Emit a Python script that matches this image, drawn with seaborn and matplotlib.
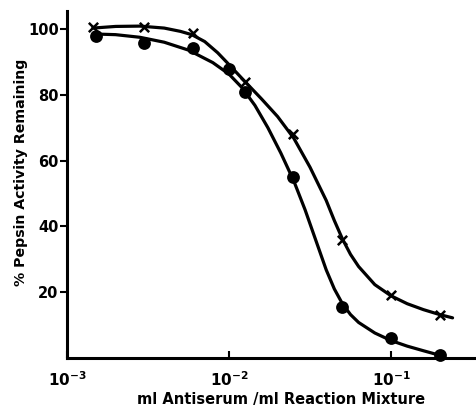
import numpy as np
import pandas as pd
import matplotlib
matplotlib.use("Agg")
import matplotlib.pyplot as plt
import seaborn as sns

# Measured points
dot_x = [0.0015, 0.003, 0.006, 0.01, 0.0125, 0.025, 0.05, 0.1, 0.2]
dot_y = [97.9, 95.7, 94.2, 88.0, 81.0, 55.0, 15.5, 6.0, 0.8]
cross_x = [0.00145, 0.003, 0.006, 0.0125, 0.025, 0.05, 0.1, 0.2]
cross_y = [100.5, 100.5, 98.7, 84.0, 68.0, 35.8, 19.0, 13.0]

# Hand-drawn fitted curves
upper_cx = [0.001445, 0.001995, 0.002818, 0.003981, 0.005012, 0.005888, 0.007079,
            0.008511, 0.01, 0.01202, 0.01585, 0.01995, 0.02512, 0.03162,
            0.03981, 0.04467, 0.05012, 0.05623, 0.0631, 0.07943, 0.1, 0.1259,
            0.1585, 0.1995, 0.2399]
upper_cy = [100.3, 100.8, 100.9, 100.3, 99.3, 98.3, 96.2, 92.8, 89.2, 85.0,
            78.8, 73.4, 66.8, 58.0, 47.9, 41.8, 36.2, 31.5, 27.8, 22.3, 18.9,
            16.5, 14.7, 13.2, 12.2]
lower_cx = [0.001479, 0.001995, 0.002818, 0.003981, 0.005623, 0.007943, 0.01,
            0.01202, 0.01445, 0.01738, 0.02089, 0.02512, 0.02951, 0.03467,
            0.03981, 0.04467, 0.05012, 0.05623, 0.0631, 0.07943, 0.1, 0.1259,
            0.1585, 0.2042]
lower_cy = [98.5, 98.3, 97.5, 96.0, 93.6, 89.8, 86.3, 82.2, 76.8, 70.0, 62.3,
            53.8, 45.0, 35.2, 26.8, 21.0, 16.5, 13.2, 10.8, 7.6, 5.3, 3.6, 2.2,
            0.7]

xticks = [1e-3, 1e-2, 1e-1]
xticklabels = [r"$\mathbf{10^{-3}}$", r"$\mathbf{10^{-2}}$", r"$\mathbf{10^{-1}}$"]
yticks = [20, 40, 60, 80, 100]

sns.set_style("ticks")
plt.rcParams["font.family"] = ["DejaVu Sans"]
plt.rcParams["font.weight"] = "bold"
plt.rcParams["text.color"] = "black"
plt.rcParams["axes.labelcolor"] = "black"
plt.rcParams["xtick.color"] = "black"
plt.rcParams["ytick.color"] = "black"
plt.rcParams["axes.edgecolor"] = "black"
plt.rcParams["lines.solid_capstyle"] = "round"
plt.rcParams["lines.solid_joinstyle"] = "round"

fig = plt.figure(figsize=(4.76, 4.11), dpi=100)
ax = fig.add_axes([0.1408, 0.129, 0.8592, 0.8443])

up = pd.DataFrame({"x": upper_cx, "y": upper_cy})
lo = pd.DataFrame({"x": lower_cx, "y": lower_cy})
sns.lineplot(data=up, x="x", y="y", ax=ax, color="black", lw=2.3, sort=False)
sns.lineplot(data=lo, x="x", y="y", ax=ax, color="black", lw=2.3, sort=False)

dd = pd.DataFrame({"x": dot_x, "y": dot_y})
cd = pd.DataFrame({"x": cross_x, "y": cross_y})
sns.scatterplot(data=dd, x="x", y="y", ax=ax, color="black", s=85,
                marker="o", edgecolor="black", linewidth=0, zorder=5,
                clip_on=False)
sns.scatterplot(data=cd, x="x", y="y", ax=ax, color="black", s=45,
                marker="x", linewidth=1.8, zorder=5)

ax.set_xscale("log")
ax.set_xlim(1e-3, 0.3347)
ax.set_ylim(0, 105.5)
ax.set_xticks(xticks)
ax.set_xticklabels(xticklabels, fontsize=11)
ax.minorticks_off()
ax.set_yticks(yticks)
ax.set_yticklabels([str(v) for v in yticks], fontsize=10.5, fontweight="bold")
ax.tick_params(axis="x", direction="in", length=5, width=1.5, pad=9)
ax.tick_params(axis="y", direction="out", length=5, width=1.5, pad=1)

for s in ["top", "right"]:
    ax.spines[s].set_visible(False)
for s in ["left", "bottom"]:
    ax.spines[s].set_linewidth(2.2)

ax.set_xlabel("ml Antiserum /ml Reaction Mixture", fontsize=10.5,
              fontweight="bold")
ax.set_ylabel("% Pepsin Activity Remaining", fontsize=10.2,
              fontweight="bold")
ax.xaxis.set_label_coords(0.523, -0.098)
ax.yaxis.set_label_coords(-0.095, 0.536)

fig.savefig("out.png", dpi=100)
